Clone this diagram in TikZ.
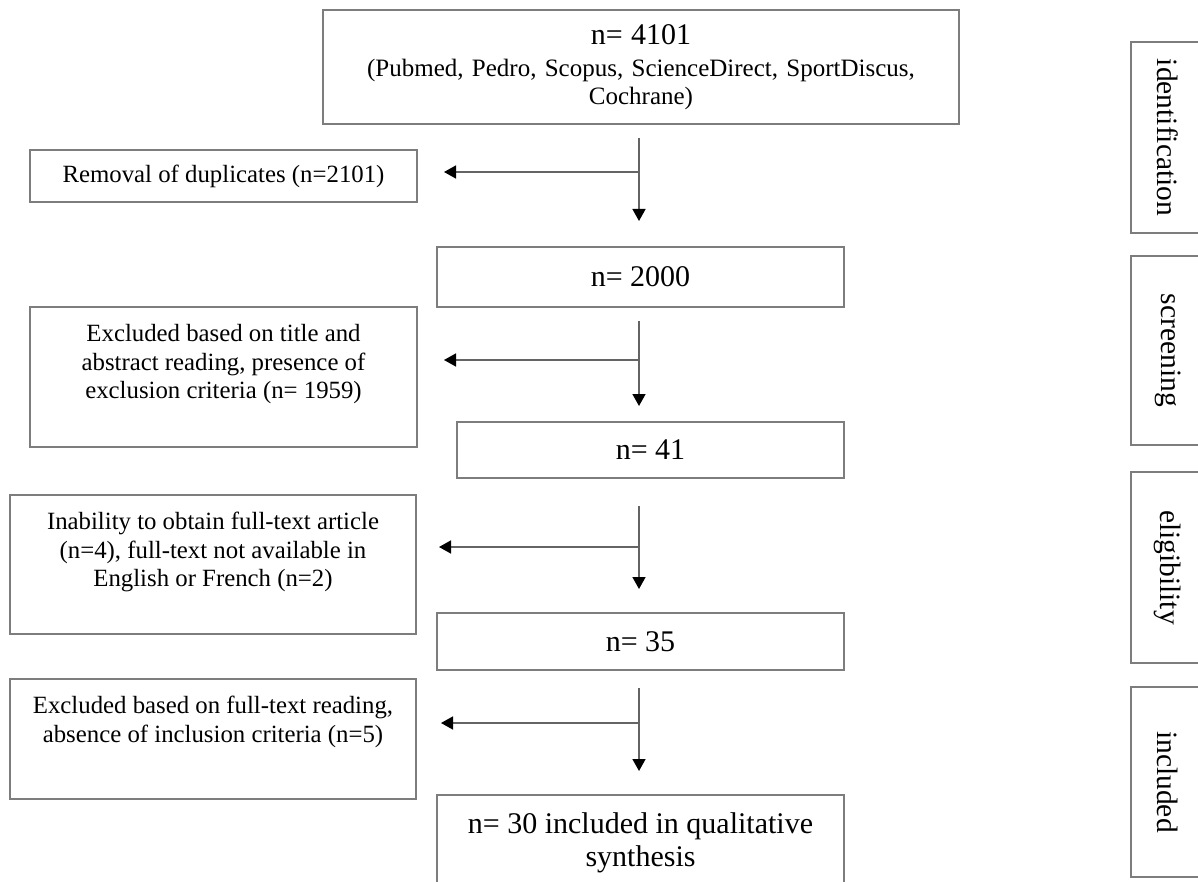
\documentclass[tikz,border=0pt]{standalone}
\usepackage{fontspec}
\setmainfont{Liberation Serif}
\usetikzlibrary{arrows.meta}
\definecolor{framegray}{RGB}{125,125,125}
\definecolor{linegray}{RGB}{100,100,100}
\newcommand{\hightext}[3]{\parbox[c][#1][t]{#2}{\centering\vspace*{17.5pt}#3}}
\begin{document}
\begin{tikzpicture}[x=1pt, y=-1pt,
  box/.style={draw=framegray, line width=2pt, inner sep=0pt, align=center},
  countbox/.style={box, font=\fontsize{30}{33}\selectfont, minimum width=407pt},
  notebox/.style={box, font=\fontsize{24.8}{28.5}\selectfont},
  stage/.style={box, rotate=-90, font=\fontsize{29.5}{32}\selectfont, minimum height=74pt},
  flow/.style={draw=linegray, line width=1.6pt, -{Triangle[length=12pt,width=13pt,color=black]}}]
  \useasboundingbox (0,0) rectangle (1198,882);
  \clip (0,0) rectangle (1198,882);

  \node[box, minimum width=636pt, minimum height=114pt, text width=600pt, font=\fontsize{25}{28}\selectfont] (search) at (641,67)
    {{\fontsize{30}{33}\selectfont n= 4101}\\[4pt] (Pubmed, Pedro, Scopus, ScienceDirect, SportDiscus,\\ Cochrane)};
  \node[notebox, minimum width=387pt, minimum height=52pt] (dup) at (223.5,176) {Removal of duplicates (n=2101)};
  \node[countbox, minimum height=60pt] (screen) at (640.5,277) {n= 2000};
  \node[notebox] (excl1) at (223.5,377)
    {\hightext{140pt}{387pt}{Excluded based on title and\\ abstract reading, presence of\\ exclusion criteria (n= 1959)}};
  \node[countbox, minimum width=387pt, minimum height=56pt] (elig) at (650.5,450) {n= 41};
  \node[notebox] (fulltext) at (213,564.5)
    {\hightext{139pt}{406pt}{Inability to obtain full-text article\\ (n=4), full-text not available in\\ English or French (n=2)}};
  \node[countbox, minimum height=57pt] (read) at (640.5,641.5) {n= 35};
  \node[notebox] (excl2) at (213,739)
    {\hightext{120pt}{406pt}{Excluded based on full-text reading,\\ absence of inclusion criteria (n=5)}};
  \node[countbox] (final) at (640.5,850)
    {\hightext{110pt}{407pt}{n= 30 included in qualitative\\ synthesis}};

  \node[stage, minimum width=191pt] (identification) at (1168,137.5) {identification};
  \node[stage, minimum width=189pt] (screening) at (1168,350.5) {screening};
  \node[stage, minimum width=191pt] (eligibility) at (1168,567.5) {eligibility};
  \node[stage, minimum width=190pt] (included) at (1168,782) {included};

  \coordinate (col) at (639,0);
  \coordinate (b1) at (639,172);
  \coordinate (b2) at (639,360);
  \coordinate (b3) at (639,547);
  \coordinate (b4) at (639,723);

  \draw[flow, shorten <=13pt, shorten >=25pt] (search.south -| col) -- (screen.north -| col);
  \draw[flow, shorten <=13pt, shorten >=15pt] (screen.south -| col) -- (elig.north -| col);
  \draw[flow, shorten <=27pt, shorten >=23pt] (elig.south -| col) -- (read.north -| col);
  \draw[flow, shorten <=17pt, shorten >=23pt] (read.south -| col) -- (final.north -| col);

  \draw[flow, shorten >=26pt] (b1) -- (b1 -| dup.east);
  \draw[flow, shorten >=26pt] (b2) -- (b2 -| excl1.east);
  \draw[flow, shorten >=22pt] (b3) -- (b3 -| fulltext.east);
  \draw[flow, shorten >=24pt] (b4) -- (b4 -| excl2.east);
\end{tikzpicture}
\end{document}
